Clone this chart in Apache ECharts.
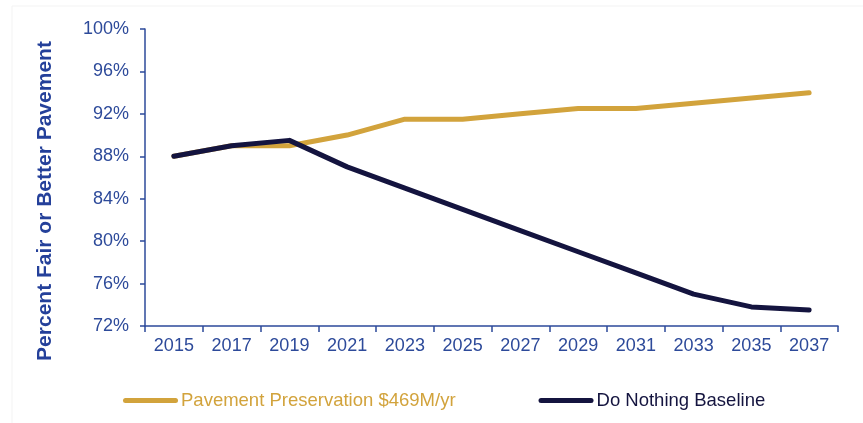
<!DOCTYPE html>
<html>
<head>
<meta charset="utf-8">
<script src="https://cdn.jsdelivr.net/npm/echarts@6/dist/echarts.min.js"></script>
<style>
  html, body { margin: 0; padding: 0; background: #ffffff; }
  #chart { width: 863px; height: 423px; }
</style>
</head>
<body>
<div id="chart"></div>
<script>
// Pavement condition outlook, percent of network rated fair or better
const years = ['2015', '2017', '2019', '2021', '2023', '2025', '2027', '2029', '2031', '2033', '2035', '2037'];
const preservation = [88, 89, 89, 90, 91.5, 91.5, 92, 92.5, 92.5, 93, 93.5, 94];
const doNothing = [88, 89, 89.5, 87, 85, 83, 81, 79, 77, 75, 73.8, 73.5];
const seriesNames = ['Pavement Preservation $469M/yr', 'Do Nothing Baseline'];
const yTicks = { min: 72, max: 100, step: 4 };

const GOLD = '#d2a33c';
const NAVY = '#14143f';
const AXIS_BLUE = '#2d4a9a';
const FONT = '"Liberation Sans", Arial, sans-serif';

const chart = echarts.init(document.getElementById('chart'), null, { renderer: 'canvas' });

// rounded bar used as the legend swatch
const pillIcon = 'path://M2.5,0 L52.5,0 A2.5,2.5 0 0 1 52.5,5 L2.5,5 A2.5,2.5 0 0 1 2.5,0 Z';

chart.setOption({
  backgroundColor: '#ffffff',
  animation: false,
  grid: { left: 145, right: 25, top: 29, bottom: 97, containLabel: false },
  graphic: [
    {
      type: 'rect',
      silent: true,
      shape: { x: 12, y: 6, width: 870, height: 430 },
      style: { fill: 'none', stroke: '#f3f3f3', lineWidth: 1 }
    },
    {
      type: 'text',
      silent: true,
      x: 45,
      y: 201,
      rotation: Math.PI / 2,
      style: {
        text: 'Percent Fair or Better Pavement',
        fill: '#24409a',
        font: 'bold 21px ' + FONT,
        align: 'center',
        verticalAlign: 'middle'
      }
    }
  ],
  legend: {
    left: 123,
    top: 391,
    padding: 0,
    itemWidth: 55,
    itemHeight: 5,
    itemGap: 83,
    icon: pillIcon,
    textStyle: { fontFamily: FONT, fontSize: 18.5, padding: [0, 0, 0, -2] },
    data: [
      { name: seriesNames[0], textStyle: { color: GOLD } },
      { name: seriesNames[1], textStyle: { color: NAVY } }
    ]
  },
  xAxis: {
    type: 'category',
    data: years,
    boundaryGap: true,
    axisLine: { lineStyle: { color: AXIS_BLUE, width: 1.5 } },
    axisTick: { show: true, length: 6, lineStyle: { color: AXIS_BLUE, width: 1.5 } },
    axisLabel: { color: AXIS_BLUE, fontFamily: FONT, fontSize: 18, margin: 11 },
    splitLine: { show: false }
  },
  yAxis: {
    type: 'value',
    min: yTicks.min,
    max: yTicks.max,
    interval: yTicks.step,
    axisLine: { show: true, lineStyle: { color: AXIS_BLUE, width: 1.5 } },
    axisTick: { show: true, length: 5, lineStyle: { color: AXIS_BLUE, width: 1.5 } },
    axisLabel: { color: AXIS_BLUE, fontFamily: FONT, fontSize: 18, margin: 16, formatter: '{value}%' },
    splitLine: { show: false }
  },
  series: [
    {
      name: seriesNames[0],
      type: 'line',
      data: preservation,
      symbol: 'none',
      color: GOLD,
      lineStyle: { color: GOLD, width: 5, cap: 'round', join: 'round' },
      z: 2
    },
    {
      name: seriesNames[1],
      type: 'line',
      data: doNothing,
      symbol: 'none',
      color: NAVY,
      lineStyle: { color: NAVY, width: 5, cap: 'round', join: 'round' },
      z: 3
    }
  ]
});
</script>
</body>
</html>
